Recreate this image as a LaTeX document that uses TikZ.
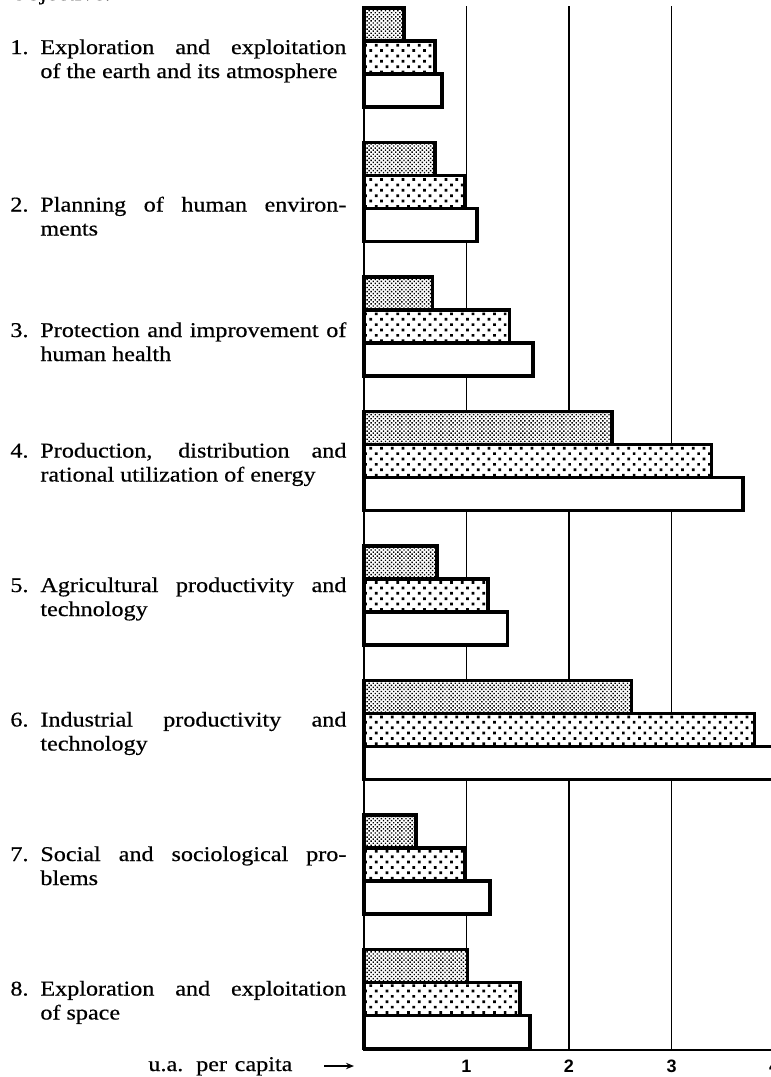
\documentclass[tikz,border=0pt]{standalone}
\usepackage{fontspec}
\setmainfont{Liberation Serif}[FakeStretch=1.15, FakeBold=0.5]
\newfontfamily\digitfont{Liberation Sans}
\usetikzlibrary{arrows.meta,patterns.meta}

\begin{document}
\begin{tikzpicture}[
  x=0.5pt, y=-0.5pt,
  objtext/.style={anchor=base west, inner sep=0pt, align=left, font=\fontsize{10.5}{12}\selectfont},
  ticklbl/.style={inner sep=0pt, font=\digitfont\bfseries\fontsize{9}{9}\selectfont},
  gridline/.style={line width=0.75pt},
  barframe/.style={line width=1.8pt, preaction={fill=white}},
  densebar/.style={barframe, pattern={Dots[distance=1.45pt, angle=45, radius=0.5pt]}},
  sparsebar/.style={barframe, pattern={Dots[distance=3.8pt, angle=45, radius=0.95pt]}},
  plainbar/.style={barframe, fill=white}
]
\useasboundingbox (0,0) rectangle (771,1077);

% Heading (cut off at the top)
\node[objtext] (heading) at (10,0) {Objective:};

% Objectives (anchored on the baseline of their last line)
\node[objtext] (obj1) at (10,78) {\makebox[15pt][l]{1.}\makebox[153pt][s]{Exploration and exploitation}\\\hspace*{15pt}of the earth and its atmosphere};
\node[objtext] (obj2) at (10,235.5) {\makebox[15pt][l]{2.}\makebox[153pt][s]{Planning of human environ-}\\\hspace*{15pt}ments};
\node[objtext] (obj3) at (10,361) {\makebox[15pt][l]{3.}\makebox[153pt][s]{Protection and improvement of}\\\hspace*{15pt}human health};
\node[objtext] (obj4) at (10,481.5) {\makebox[15pt][l]{4.}\makebox[153pt][s]{Production, distribution and}\\\hspace*{15pt}rational utilization of energy};
\node[objtext] (obj5) at (10,616) {\makebox[15pt][l]{5.}\makebox[153pt][s]{Agricultural productivity and}\\\hspace*{15pt}technology};
\node[objtext] (obj6) at (10,750.5) {\makebox[15pt][l]{6.}\makebox[153pt][s]{Industrial productivity and}\\\hspace*{15pt}technology};
\node[objtext] (obj7) at (10,885) {\makebox[15pt][l]{7.}\makebox[153pt][s]{Social and sociological pro-}\\\hspace*{15pt}blems};
\node[objtext] (obj8) at (10,1019.5) {\makebox[15pt][l]{8.}\makebox[153pt][s]{Exploration and exploitation}\\\hspace*{15pt}of space};

% Grid and axis
\foreach \k in {1,2,3}
  \draw[gridline] (364+102.5*\k,6) -- (364+102.5*\k,1050);
\draw[gridline] (364,8) -- (364,1050) -- (800,1050);

% Bars (value in u.a. per capita)
\foreach \g/\a/\b/\c in {0/0.39/0.69/0.76, 1/0.69/0.98/1.10, 2/0.67/1.42/1.65,
    3/2.42/3.39/3.70, 4/0.71/1.21/1.40, 5/2.61/3.81/4.30, 6/0.51/0.98/1.23,
    7/1.01/1.52/1.62} {
  \pgfmathsetmacro\ytop{8+134.5*\g}
  \draw[densebar] (364,\ytop) rectangle (364+102.5*\a,\ytop+33);
  \draw[sparsebar] (364,\ytop+33) rectangle (364+102.5*\b,\ytop+66);
  \draw[plainbar] (364,\ytop+66) rectangle (364+102.5*\c,\ytop+99);
}

% Scale
\foreach \k in {1,2,3,4}
  \node[ticklbl] (num\k) at (364+102.5*\k,1066) {\k};
\node[objtext] (unitlbl) at (148,1071) {\makebox[72pt][s]{u.a. per capita}};
\coordinate (arrowtail) at (324,1066);
\coordinate (arrowhead) at (354,1066);
\draw[-{Stealth[length=4pt,width=3.2pt]}, line width=0.9pt] (arrowtail) -- (arrowhead);
\end{tikzpicture}
\end{document}
